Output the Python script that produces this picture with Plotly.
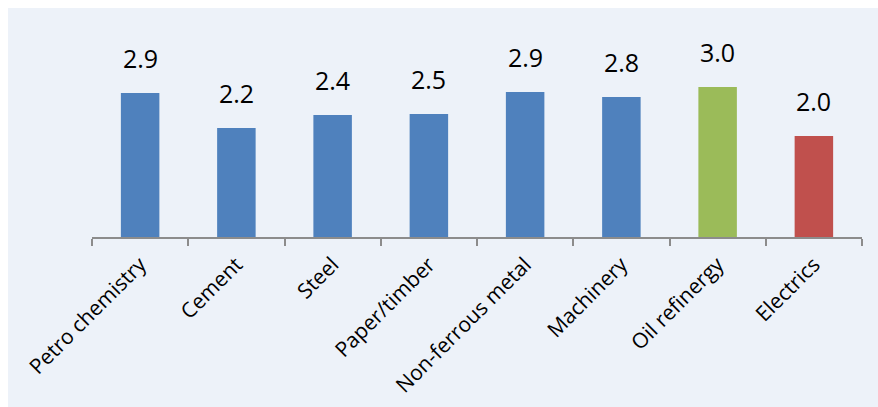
import plotly.graph_objects as go

categories = ["Petro chemistry", "Cement", "Steel", "Paper/timber",
              "Non-ferrous metal", "Machinery", "Oil refinergy", "Electrics"]
values = [2.88, 2.18, 2.44, 2.46, 2.9, 2.8, 3.0, 2.02]
colors = ["#4F81BD"] * 6 + ["#9BBB59", "#C0504D"]
labels = [f"{v:.1f}" for v in values]

fig = go.Figure()
fig.add_trace(go.Bar(
    x=categories, y=values,
    marker=dict(color=colors, line=dict(width=0)),
    width=0.4,
    hoverinfo="x+y",
))

for c, v, t in zip(categories, values, labels):
    fig.add_annotation(x=c, y=v, text=t, showarrow=False, yanchor="bottom",
                       yshift=16, font=dict(family="Open Sans", size=25, color="#000000"))

W, H = 878, 407
L, R, T, B = 92, 16, 37, 170
pw, ph = W - L - R, H - T - B
fig.add_shape(type="rect", xref="paper", yref="paper", layer="below",
              x0=(8 - L) / pw, x1=(W - L) / pw,
              y0=-(H - T - ph) / ph - 0.01, y1=1 + (T - 8) / ph,
              fillcolor="#EDF2F9", line=dict(width=0))

fig.update_layout(
    width=W, height=H,
    margin=dict(l=L, r=R, t=T, b=B, pad=0, autoexpand=False),
    paper_bgcolor="#FFFFFF",
    plot_bgcolor="rgba(0,0,0,0)",
    showlegend=False,
    font=dict(family="Open Sans", size=21, color="#000000"),
    xaxis=dict(
        type="category", range=[-0.5, 7.5], automargin=False,
        showline=True, linecolor="#8C8C8C", linewidth=2,
        ticks="outside", tickson="boundaries", ticklen=7, tickwidth=2, tickcolor="#8C8C8C",
        tickangle=-45, tickfont=dict(family="Open Sans", size=21, color="#000000"),
        ticklabelstandoff=5,
        showgrid=False, zeroline=False,
    ),
    yaxis=dict(range=[0, 4.0], visible=False, showgrid=False, zeroline=False),
)

fig.write_html("out.html")
